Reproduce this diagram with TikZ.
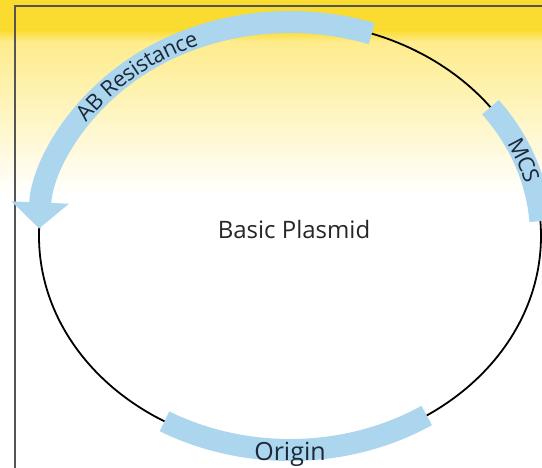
\documentclass[tikz,border=0pt]{standalone}
\usepackage{fontspec}
\setmainfont{Open Sans}
\usetikzlibrary{calc}
\usetikzlibrary{arrows.meta}
\usetikzlibrary{decorations.text}
\definecolor{bandblue}{RGB}{172,214,238}
\definecolor{labelnavy}{RGB}{26,40,56}
\definecolor{topyellow}{RGB}{250,219,48}
\definecolor{paleyellow}{RGB}{254,236,140}
\definecolor{framegray}{RGB}{85,85,85}
\newcommand{\genefont}{\fontsize{22}{26}\selectfont}
\tikzset{x=1pt, y=1pt, % One unit is one pixel of the sketch
ring/.style={ % The plasmid backbone
line width=1.8pt,
black},
gene/.style={ % Sets the properties for each feature band
draw=bandblue,
line width=22pt},
genelabel/.style={ % Label written along a band
decorate,
decoration={text along path, text align=center, raise=-8pt, text color=labelnavy}},
frame/.style={ % Outer box of the slide
line width=2pt,
framegray}}

\begin{document}
\begin{tikzpicture}
    \useasboundingbox (0,0) rectangle (542,468);
    \clip (0,0) rectangle (542,468);
    \coordinate (c) at (290,232);
    \fill[topyellow] (0,438) rectangle (542,468);
    \shade[top color=topyellow, bottom color=paleyellow] (0,426) rectangle (542,438);
    \shade[top color=paleyellow, bottom color=white] (0,273) rectangle (542,426);
    \draw[frame] (15,-20) -- (15,462) -- (600,462);
    \draw[ring] (c) ellipse [x radius=251, y radius=214];
    \draw[gene, -{Triangle[width=56pt,length=26pt]}] ($(c)+(71:251 and 214)$) arc[start angle=71, end angle=178, x radius=251, y radius=214];
    \draw[gene] ($(c)+(37:251 and 214)$) arc[start angle=37, end angle=4, x radius=251, y radius=214];
    \draw[gene] ($(c)+(240:251 and 214)$) arc[start angle=240, end angle=303, x radius=251, y radius=214];
    \path[genelabel, decoration={text={|\genefont|AB Resistance}}] ($(c)+(162:251 and 214)$) arc[start angle=162, end angle=98, x radius=251, y radius=214];
    \path[genelabel, decoration={text={|\genefont|MCS}}] ($(c)+(39:251 and 214)$) arc[start angle=39, end angle=2, x radius=251, y radius=214];
    \node[text=labelnavy, font=\fontsize{25}{30}\selectfont] (ori) at (290,14) {Origin};
    \node[text=black!85, font=\fontsize{24}{29}\selectfont] (title) at (294,238) {Basic Plasmid};
\end{tikzpicture}
\end{document}
